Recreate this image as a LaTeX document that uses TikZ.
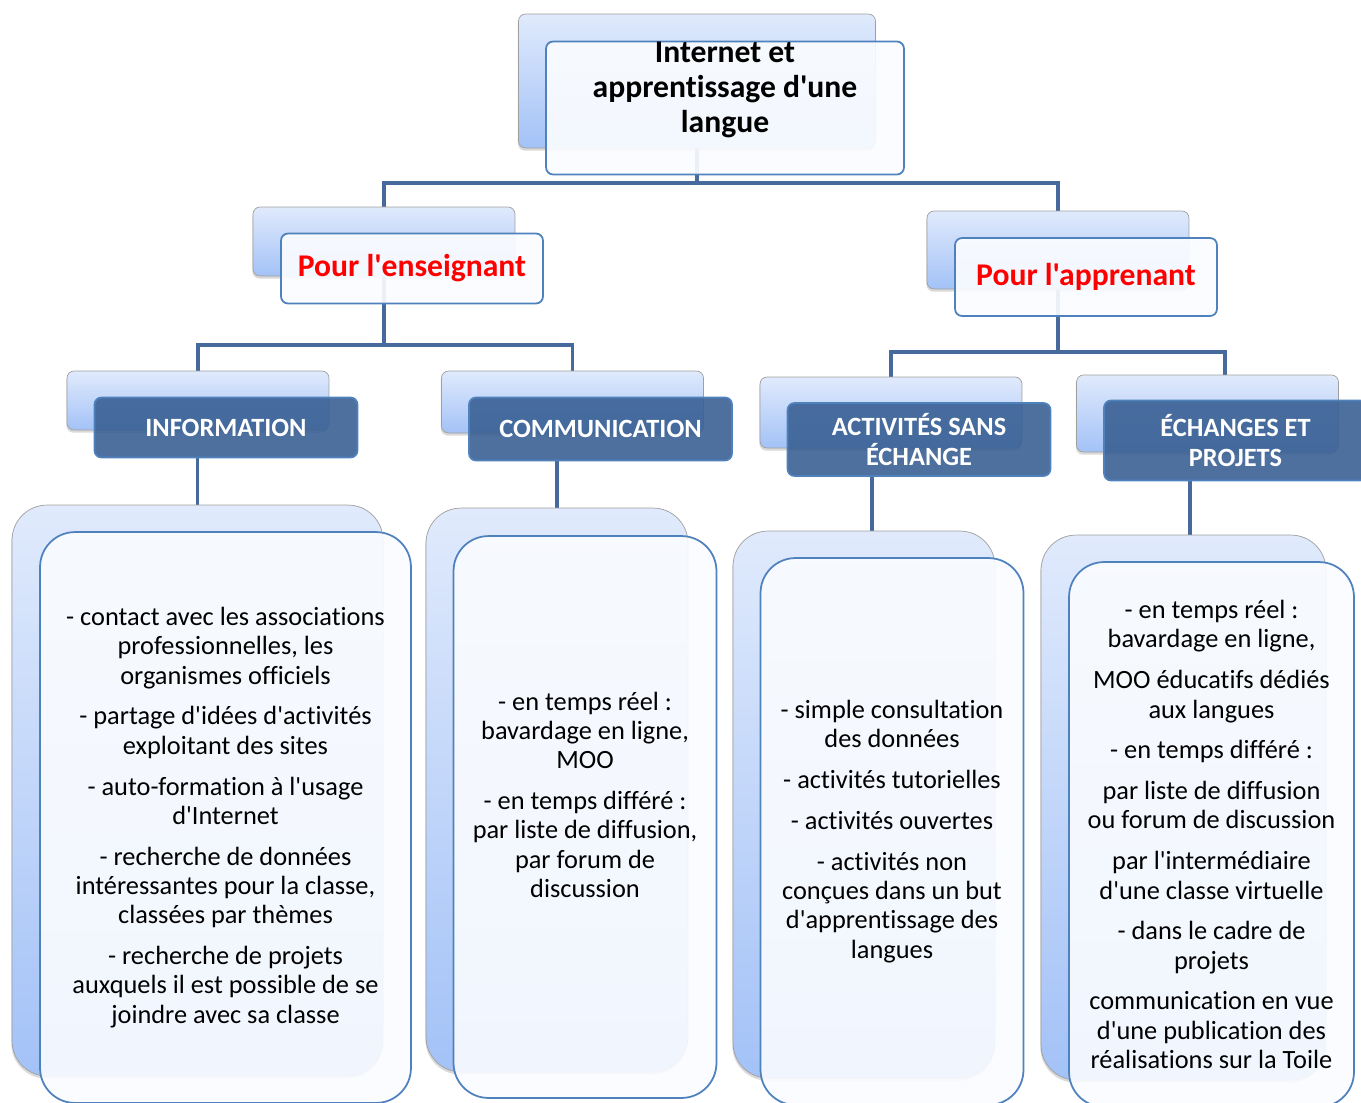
\documentclass[tikz,border=0pt]{standalone}
\usepackage{fontspec}
\setmainfont{Carlito}[Ligatures={TeXOff,CommonOff}]
\usepackage{xcolor}
\usetikzlibrary{positioning, shadows, backgrounds}

\definecolor{linkblue}{RGB}{70,106,155}
\definecolor{edgeblue}{RGB}{79,129,189}
\definecolor{darkblue}{RGB}{58,96,148}
\definecolor{paleblue}{RGB}{224,234,252}
\definecolor{midblue}{RGB}{163,194,247}
\definecolor{boxwhite}{RGB}{250,252,255}

\begin{document}
\begin{tikzpicture}[
            x=0.02cm, y=-0.02cm,
            backbox/.style={ rectangle, draw=gray!75, rounded corners=4pt, top color=paleblue, bottom color=midblue, minimum width=5.24cm, drop shadow={opacity=0.3, shadow xshift=-0.4pt, shadow yshift=-1.5pt} },
            headbox/.style={ rectangle, draw=edgeblue, line width=1pt, rounded corners=4pt, fill=boxwhite, fill opacity=0.92, text opacity=1, minimum width=5.24cm, align=center, font=\fontsize{18}{19.8}\selectfont\bfseries },
            catbox/.style={ rectangle, draw=edgeblue, line width=1pt, rounded corners=4pt, fill=darkblue, fill opacity=0.9, text opacity=1, text=white, minimum width=5.26cm, align=center, font=\fontsize{15}{17}\selectfont\bfseries },
            listback/.style={ backbox, rounded corners=0.7cm },
            listbox/.style={ rectangle, draw=edgeblue, line width=1pt, rounded corners=0.7cm, fill=boxwhite, fill opacity=0.9, text opacity=1, align=center, font=\fontsize{15}{16.7}\selectfont },
            link/.style={ draw=linkblue, line width=2.2pt }
        ]
            \useasboundingbox (0,0) rectangle (1361,1102);
            \clip (0,0) rectangle (1361,1102);

            % Main node
            \node (root) [backbox, minimum width=7.14cm, minimum height=2.68cm] at (697,81) {};
            \node (root-f) [headbox, inner ysep=0pt, minimum width=7.16cm, minimum height=2.66cm] at ([shift={(28,27)}]root.center) {Internet et\\apprentissage d'une\\langue\\[3.6pt]\mbox{}};

            % Public nodes
            \node (ens) [backbox, minimum height=1.38cm] at (384,241.5) {};
            \node (ens-f) [headbox, text=red, minimum height=1.4cm] at ([shift={(28,27)}]ens.center) {Pour l'enseignant};
            \node (app) [backbox, minimum height=1.56cm] at (1058,250) {};
            \node (app-f) [headbox, text=red, minimum height=1.56cm] at ([shift={(28,27)}]app.center) {Pour l'apprenant};

            % Category nodes
            \node (info) [backbox, minimum height=1.18cm] at (198,400.5) {};
            \node (info-f) [catbox, minimum height=1.2cm] at ([shift={(28,27)}]info.center) {INFORMATION};
            \node (comm) [backbox, minimum height=1.24cm] at (572.5,402) {};
            \node (comm-f) [catbox, minimum height=1.26cm] at ([shift={(28,27)}]comm.center) {COMMUNICATION};
            \node (act) [backbox, minimum height=1.42cm] at (891,412.5) {};
            \node (act-f) [catbox, minimum height=1.46cm] at ([shift={(28,27)}]act.center) {ACTIVITÉS SANS\\ÉCHANGE};
            \node (ech) [backbox, minimum height=1.54cm] at (1207.5,413.5) {};
            \node (ech-f) [catbox, minimum height=1.6cm] at ([shift={(28,27)}]ech.center) {ÉCHANGES ET\\PROJETS};

            % Detail nodes
            \node (infod) [listback, minimum width=7.42cm, minimum height=11.42cm] at (197.5,790.5) {};
            \node (infod-f) [listbox, minimum width=7.42cm, minimum height=11.42cm] at ([shift={(28,27)}]infod.center) {- contact avec les associations\\professionnelles, les\\organismes officiels\\[6.5pt]
                - partage d'idées d'activités\\exploitant des sites\\[6.5pt]
                - auto-formation à l'usage\\d'Internet\\[6.5pt]
                - recherche de données\\intéressantes pour la classe,\\classées par thèmes\\[6.5pt]
                - recherche de projets\\auxquels il est possible de se\\joindre avec sa classe};
            \node (commd) [listback, minimum height=11.28cm] at (557,790) {};
            \node (commd-f) [listbox, minimum width=5.26cm, minimum height=11.24cm] at ([shift={(28,27)}]commd.center) {- en temps réel :\\bavardage en ligne,\\MOO\\[6.5pt]
                - en temps différé :\\par liste de diffusion,\\par forum de\\discussion\\[8.8pt]\mbox{}};
            \node (actd) [listback, minimum height=10.94cm] at (864,804.5) {};
            \node (actd-f) [listbox, minimum width=5.26cm, minimum height=10.94cm] at ([shift={(28,27)}]actd.center) {- simple consultation\\des données\\[6.5pt]
                - activités tutorielles\\[6.5pt]
                - activités ouvertes\\[6.5pt]
                - activités non\\conçues dans un but\\d'apprentissage des\\langues};
            \node (echd) [listback, minimum width=5.7cm, minimum height=10.9cm] at (1183.5,807.5) {};
            \node (echd-f) [listbox, minimum width=5.7cm, minimum height=10.9cm] at ([shift={(28,27)}]echd.center) {- en temps réel :\\bavardage en ligne,\\[6.5pt]
                MOO éducatifs dédiés\\aux langues\\[6.5pt]
                - en temps différé :\\[6.5pt]
                par liste de diffusion\\ou forum de discussion\\[6.5pt]
                par l'intermédiaire\\d'une classe virtuelle\\[6.5pt]
                - dans le cadre de\\projets\\[6.5pt]
                communication en vue\\d'une publication des\\réalisations sur la Toile};

            % Links
            \begin{scope}[on background layer]
                \draw[link] (root.center) -- ++(0,102) -| (ens.center);
                \draw[link] (root.center) -- ++(0,102) -| (app.center);
                \draw[link] (ens.center) -- ++(0,103.5) -| (info.center);
                \draw[link] (ens.center) -- ++(0,103.5) -| (comm.center);
                \draw[link] (app.center) -- ++(0,102) -| (act.center);
                \draw[link] (app.center) -- ++(0,102) -| ([xshift=0.35cm]ech.center);
                \draw[link] (infod.north |- info-f.south) -- (infod.north);
                \draw[link] (commd.north |- comm-f.south) -- (commd.north);
                \draw[link] ([xshift=0.16cm]actd.north |- act-f.south) -- ([xshift=0.16cm]actd.north);
                \draw[link] ([xshift=0.13cm]echd.north |- ech-f.south) -- ([xshift=0.13cm]echd.north);
            \end{scope}

        \end{tikzpicture}
\end{document}
